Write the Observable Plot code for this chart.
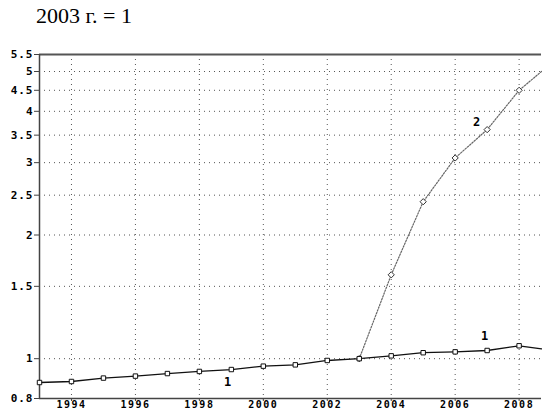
<!DOCTYPE html>
<html><head><meta charset="utf-8">
<script src="https://cdn.jsdelivr.net/npm/d3@7"></script>
<script src="https://cdn.jsdelivr.net/npm/@observablehq/plot@0.6"></script>
<style>
html,body{margin:0;padding:0;background:#fff;}
#wrap{position:relative;width:542px;height:410px;overflow:hidden;}
#title{position:absolute;left:36px;top:3px;font-family:"Liberation Serif","Times New Roman",serif;font-size:22px;color:#000;white-space:nowrap;}
#chart{position:absolute;left:0;top:0;}
#chart svg text{letter-spacing:1px;}
#chart svg g[aria-label="x-axis tick label"] text{letter-spacing:1.5px;font-size:10px;}
</style></head><body>
<div id="wrap"><div id="chart"></div><div id="title">2003 г. = 1</div></div>
<script>
// Series 1 (solid, squares)
const years1 = [1993,1994,1995,1996,1997,1998,1999,2000,2001,2002,2003,2004,2005,2006,2007,2008,2008.7];
const values1 = [0.875,0.880,0.897,0.907,0.920,0.931,0.941,0.959,0.966,0.990,1.0,1.016,1.034,1.039,1.047,1.075,1.057];
// Series 2 (dotted, diamonds)
const years2 = [2003,2004,2005,2006,2007,2008,2008.7];
const values2 = [1.0,1.60,2.41,3.08,3.61,4.50,5.0];
// Tick labels
const yTicks = [0.8,1,1.5,2,2.5,3,3.5,4,4.5,5,5.5];
const xTicks = [1994,1996,1998,2000,2002,2004,2006,2008];
// Series labels (data coordinates)
const labelText = ["1","1","2"];
const labelYears = [1998.9,2006.94,2006.69];
const labelValues = [0.878,1.133,3.76];

const s1 = years1.map((x,i)=>({x, y: values1[i]}));
const s2 = years2.map((x,i)=>({x, y: values2[i]}));
const labels = labelText.map((t,i)=>({t, x: labelYears[i], y: labelValues[i]}));
const gridY = yTicks.filter(v => v !== 0.8 && v !== 5.5);

const chart = Plot.plot({
  width: 542, height: 410,
  marginLeft: 39, marginRight: 1, marginTop: 54, marginBottom: 12,
  style: {fontFamily: "'DejaVu Sans Mono', monospace", fontWeight: "bold", fontSize: "11px", color: "#000", background: "#fff"},
  x: {domain: [1993, 2008.7]},
  y: {type: "log", domain: [0.8, 5.5]},
  marks: [
    Plot.ruleY(gridY, {stroke: "#555", strokeDasharray: "1,4", strokeWidth: 1}),
    Plot.ruleX(xTicks, {stroke: "#555", strokeDasharray: "1,4", strokeWidth: 1}),
    Plot.axisY({ticks: yTicks, tickFormat: d => String(d), tickSize: 5, tickPadding: 1, stroke: "#444", label: null}),
    Plot.axisX({ticks: xTicks, tickFormat: d => String(d), tickSize: 3, tickPadding: -1, stroke: "#444", label: null, fontSize: 10}),
    Plot.ruleY([0.8], {stroke: "#444", strokeWidth: 1.5}),
    Plot.ruleY([5.5], {stroke: "#555", strokeWidth: 2}),
    Plot.ruleX([1993], {stroke: "#444", strokeWidth: 1.5}),
    Plot.line(s2, {x: "x", y: "y", stroke: "#666", strokeWidth: 1.2, strokeDasharray: "1.5,1.5"}),
    Plot.line(s1, {x: "x", y: "y", stroke: "#111", strokeWidth: 1.3}),
    Plot.dot(s2.slice(0,-1), {x: "x", y: "y", symbol: "diamond2", r: 2.8, stroke: "#333", strokeWidth: 1, fill: "#fff"}),
    Plot.dot(s1.slice(0,-1), {x: "x", y: "y", symbol: "square", r: 2.5, stroke: "#111", strokeWidth: 1, fill: "#fff"}),
    Plot.text(labels, {x: "x", y: "y", text: "t", fill: "#000", fontSize: 12, fontWeight: "bold"})
  ]
});
document.getElementById("chart").appendChild(chart);
</script>
</body></html>
